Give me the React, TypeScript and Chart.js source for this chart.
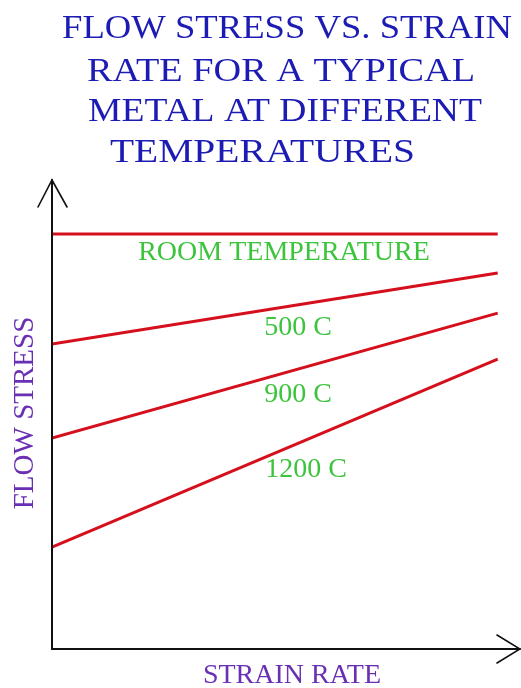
import React, { useEffect, useRef } from "react";
import { Chart, registerables } from "chart.js";

Chart.register(...registerables);

const titleLines = [
  "FLOW STRESS VS. STRAIN",
  "RATE FOR A TYPICAL",
  "METAL AT DIFFERENT",
  "TEMPERATURES",
];
const xAxisLabel = "STRAIN RATE";
const yAxisLabel = "FLOW STRESS";
const seriesLabels = ["ROOM TEMPERATURE", "500 C", "900 C", "1200 C"];

const strainRate = [0, 10];
const roomTemp = [9.29, 9.29];
const temp500 = [6.83, 8.42];
const temp900 = [4.72, 7.52];
const temp1200 = [2.28, 6.49];

const seriesValues = [roomTemp, temp500, temp900, temp1200];

const BLUE = "#1c1cb4";
const PURPLE = "#6a30b4";
const GREEN = "#3cc43c";
const RED = "#d50f1c";
const SERIF = '"Liberation Serif", "Times New Roman", serif';

const decorPlugin = {
  id: "decor",
  afterDraw(chart: any) {
    const ctx = chart.ctx as CanvasRenderingContext2D;
    const { left, right, top, bottom } = chart.chartArea;
    ctx.save();
    // axes
    ctx.strokeStyle = "#111";
    ctx.lineWidth = 2;
    ctx.lineCap = "round";
    ctx.beginPath();
    ctx.moveTo(left, top);
    ctx.lineTo(left, bottom);
    ctx.lineTo(right, bottom);
    ctx.stroke();
    ctx.lineWidth = 1.6;
    ctx.beginPath();
    ctx.moveTo(left - 14, top + 27);
    ctx.lineTo(left, top);
    ctx.lineTo(left + 15, top + 27);
    ctx.moveTo(right - 23, bottom - 14);
    ctx.lineTo(right, bottom);
    ctx.lineTo(right - 23, bottom + 14);
    ctx.stroke();

    // title
    ctx.fillStyle = BLUE;
    ctx.textAlign = "left";
    ctx.textBaseline = "alphabetic";
    ctx.font = `34px ${SERIF}`;
    const lefts = [62, 87, 88, 110];
    const widths = [450, 388, 394, 305];
    const baselines = [38, 81, 121, 162];
    titleLines.forEach((t, i) => {
      const w = ctx.measureText(t).width;
      ctx.save();
      ctx.translate(lefts[i], baselines[i]);
      ctx.scale(widths[i] / w, 1);
      ctx.fillText(t, 0, 0);
      ctx.restore();
    });

    // axis labels
    ctx.textAlign = "center";
    ctx.fillStyle = PURPLE;
    ctx.font = `28px ${SERIF}`;
    ctx.fillText(xAxisLabel, 292, 683);
    ctx.save();
    ctx.translate(33, 413);
    ctx.rotate(-Math.PI / 2);
    ctx.font = `29px ${SERIF}`;
    ctx.fillText(yAxisLabel, 0, 0);
    ctx.restore();

    // series labels
    ctx.fillStyle = GREEN;
    ctx.font = `28px ${SERIF}`;
    const lx = [284, 298, 298, 306];
    const ly = [260, 335, 402, 477];
    seriesLabels.forEach((t, i) => ctx.fillText(t, lx[i], ly[i]));
    ctx.restore();
  },
};

export default function App() {
  const ref = useRef<HTMLCanvasElement>(null);
  useEffect(() => {
    if (!ref.current) return;
    const chart = new Chart(ref.current, {
      type: "line",
      data: {
        datasets: seriesValues.map((vals, i) => ({
          label: seriesLabels[i],
          data: strainRate.map((x, j) => ({ x, y: vals[j] })),
          borderColor: RED,
          borderWidth: 3,
          pointRadius: 0,
          fill: false,
          tension: 0,
        })),
      },
      options: {
        animation: false,
        responsive: false,
        layout: { padding: { left: 52, right: 1, top: 180, bottom: 39 } },
        scales: {
          x: { type: "linear", min: 0, max: 10.5, display: false },
          y: { type: "linear", min: 0, max: 10.5, display: false },
        },
        plugins: {
          legend: { display: false },
          title: { display: false },
          tooltip: { enabled: false },
        },
      },
      plugins: [decorPlugin],
    });
    return () => chart.destroy();
  }, []);
  return (
    <div style={{ position: "fixed", left: 0, top: 0, width: 521, height: 688, background: "#fff" }}>
      <canvas ref={ref} width={521} height={688} style={{ display: "block" }} />
    </div>
  );
}
